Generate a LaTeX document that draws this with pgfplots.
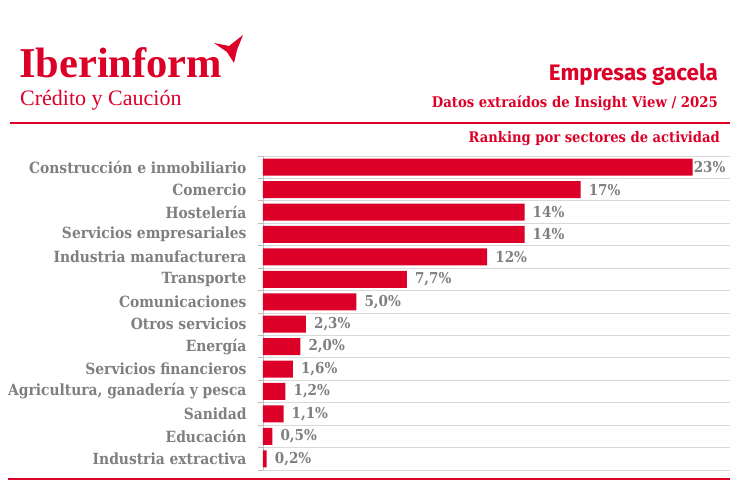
\documentclass[border=0pt]{standalone}
\usepackage{fontspec}
\setmainfont{Liberation Serif}
\newfontfamily\titlefont{Fira Sans}
\newfontfamily\slab{DejaVu Serif Condensed}
\usepackage{pgfplots}
\pgfplotsset{compat=1.18}
\definecolor{ibred}{HTML}{DC0028}
\definecolor{labgray}{HTML}{7F7F7F}
\definecolor{gridgray}{HTML}{D9D9D9}

\begin{document}
\begin{tikzpicture}
\path[use as bounding box, fill=white] (0pt,0pt) rectangle (750pt,489pt);

% logo
\node[anchor=base west, inner sep=0, text=ibred, font=\fontsize{42.5}{42}\selectfont\bfseries] at (19pt,411pt) {Iberinform};
\node[anchor=base west, inner sep=0, text=ibred, font=\fontsize{22}{22}\selectfont] at (20pt,383pt) {Crédito y Caución};
\fill[ibred] (214pt,446pt) -- (229pt,443pt) -- (243pt,454pt) -- (237pt,439pt) -- (234pt,426pt) -- (227pt,437pt) -- cycle;

% titles
\node[anchor=base east, inner sep=0, text=ibred, font=\titlefont\fontsize{22.4}{22}\selectfont\bfseries] at (718pt,408pt) {Empresas gacela};
\node[anchor=base east, inner sep=0, text=ibred, font=\slab\fontsize{14.7}{14}\selectfont\bfseries] at (718pt,381pt) {Datos extraídos de Insight View / 2025};
\draw[ibred, line width=2.5pt] (10pt,366pt) -- (730pt,366pt);
\node[anchor=base east, inner sep=0, text=ibred, font=\slab\fontsize{14.6}{14}\selectfont\bfseries] at (720pt,346pt) {Ranking por sectores de actividad};
\draw[ibred, line width=2.5pt] (8pt,10pt) -- (730pt,10pt);

\begin{axis}[
    at={(263pt,19pt)}, anchor=south west,
    width=467pt, height=314pt, scale only axis,
    xmin=0, xmax=25,
    ymin=-0.5, ymax=13.5,
    y dir=reverse,
    axis x line=none,
    axis y line*=left,
    axis line style={gridgray!70!gray, line width=0.8pt},
    ytick={0,...,13},
    yticklabels={Construcción e inmobiliario, Comercio, Hostelería, Servicios empresariales, Industria manufacturera, Transporte, Comunicaciones, Otros servicios, Energía, Servicios financieros, {Agricultura, ganadería y pesca}, Sanidad, Educación, Industria extractiva},
    minor ytick={-0.5,0.5,...,13.5},
    yminorgrids=true,
    minor grid style={gridgray, line width=0.8pt},
    major tick length=0pt,
    minor tick length=5pt,
    tick align=outside,
    minor tick style={gridgray!70!gray, line width=0.8pt},
    yticklabel style={font=\slab\fontsize{15.4}{15}\selectfont\bfseries, text=labgray, xshift=-13pt},
    clip=false,
]
\addplot[xbar, fill=ibred, draw=none, bar width=17pt,
    point meta=explicit symbolic,
    visualization depends on={x \as \rawx},
    nodes near coords={\pgfplotspointmeta\%},
    nodes near coords style={anchor=west, inner sep=0pt, xshift={(\rawx>20) ? 1 : 8}, text=labgray, font=\slab\fontsize{15}{15}\selectfont\bfseries}]
table[x=x, y=y, meta=lab] {
x y lab
23 0 23
17 1 17
14 2 14
14 3 14
12 4 12
7.7 5 7,7
5.0 6 5,0
2.3 7 2,3
2.0 8 2,0
1.6 9 1,6
1.2 10 1,2
1.1 11 1,1
0.5 12 0,5
0.2 13 0,2
};
\end{axis}
\end{tikzpicture}
\end{document}
